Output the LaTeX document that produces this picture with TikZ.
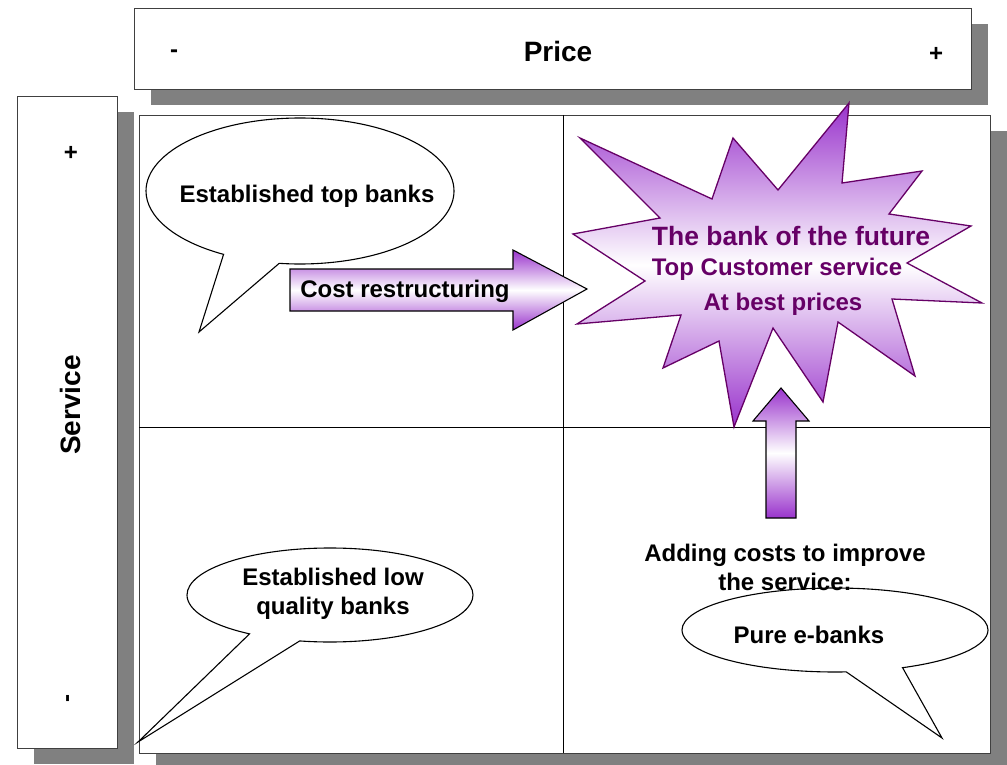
\documentclass[tikz,border=0pt]{standalone}
\usepackage{fontspec}
\setmainfont{Liberation Sans}
\usetikzlibrary{shadows, shapes.callouts}

\definecolor{bankviolet}{HTML}{9933CC}
\definecolor{bankplum}{HTML}{660066}

\tikzset{%
   panel/.style={
      draw=black!75,
      line width=0.8pt,
      fill=white,
      inner sep=0pt,
      drop shadow={shadow xshift=17pt, shadow yshift=-16pt, fill=black!50, opacity=1}
   },
   bubble/.style={
      ellipse callout,
      draw=black,
      line width=1.1pt,
      fill=white,
      inner sep=0pt,
      callout pointer arc=22
   },
   txt/.style={font=\fontsize{24}{29}\selectfont\bfseries},
   big/.style={font=\fontsize{28}{32}\selectfont\bfseries},
   blockarrow/.style={
      draw=black,
      line width=1.1pt,
      top color=bankviolet, bottom color=bankviolet, middle color=white
   },
   burst/.style={
      draw=bankplum,
      line width=1.3pt,
      top color=bankviolet, bottom color=bankviolet, middle color=white
   },
   bursttxt/.style={txt, text=bankplum, anchor=base},
}

\begin{document}
\begin{tikzpicture}[x=1pt, y=-1pt]
   \useasboundingbox (0,0) rectangle (1007,765);

   % axis boxes and the quadrant frame
   \node[panel, minimum width=837pt, minimum height=81pt] (price) at (552.5,48.5) {};
   \node[panel, minimum width=100pt, minimum height=652pt] (service) at (67,422) {};
   \node[panel, minimum width=851pt, minimum height=638pt] (grid) at (564.5,434) {};
   \draw[line width=1pt] (563,115) -- (563,753);
   \draw[line width=1pt] (139,427) -- (990,427);

   \node[big, anchor=base] (pricelbl) at (558,62) {Price};
   \node[txt] (pmin) at (174,54) {-};
   \node[txt] (pmax) at (936,54) {+};
   \node[big, rotate=90] (servlbl) at (70,405) {Service};
   \node[txt] (smax) at (71,153) {+};
   \node[txt, rotate=90] (smin) at (70,698) {-};

   % speech bubbles
   \node[bubble, minimum width=308pt, minimum height=146pt,
         callout absolute pointer={(199,332)}] (topbanks) at (300,191) {};
   \node[bubble, minimum width=286pt, minimum height=94pt,
         callout absolute pointer={(138,742)}] (lowbanks) at (330,595) {};
   \node[bubble, minimum width=306pt, minimum height=84pt,
         callout absolute pointer={(942,738)}] (ebanks) at (835,630) {};

   \node[txt, anchor=base] at (307,202) {Established top banks};
   \node[txt, align=center] at (333,594) {Established low\\quality banks};
   \node[txt, anchor=base] at (809,643) {Pure e-banks};

   % moves towards the top right corner
   \path[blockarrow] (290,269) -- (513,269) -- (513,250) -- (587,289)
      -- (513,330) -- (513,311) -- (290,311) -- cycle;
   \node[txt, anchor=base] (cost) at (405,297) {Cost restructuring};

   \path[blockarrow] (766,518) -- (766,421) -- (753,421) -- (781,388)
      -- (809,421) -- (796,421) -- (796,518) -- cycle;
   \node[txt, align=center] (adding) at (785,567) {Adding costs to improve\\the service:};

   % the burst
   \path[burst] (849,103) -- (842,183) -- (922,171) -- (889,214) -- (971,226)
      -- (907,263) -- (982,303) -- (892,299) -- (915,376) -- (838,322)
      -- (823,402) -- (773,328) -- (734,427) -- (719,341) -- (663,368)
      -- (681,315) -- (577,324) -- (645,281) -- (573,234) -- (660,218)
      -- (580,138) -- (712,199) -- (733,138) -- (778,190) -- cycle;
   \node[bursttxt, font=\fontsize{26.5}{30}\selectfont\bfseries] (future) at (791,245) {The bank of the future};
   \node[bursttxt] (topcs) at (777,275) {Top Customer service};
   \node[bursttxt] (best) at (783,310) {At best prices};
\end{tikzpicture}
\end{document}
